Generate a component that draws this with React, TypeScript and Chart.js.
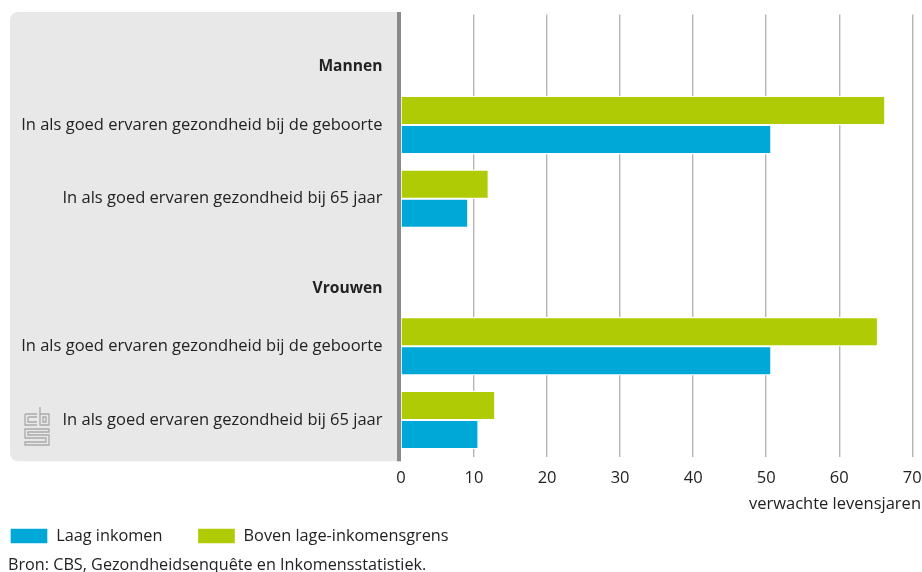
import React, { useEffect, useRef } from "react";
import { Chart, registerables } from "chart.js";

Chart.register(...registerables);

const categories: (string | string[])[] = [
  ["", "Mannen"],
  "In als goed ervaren gezondheid bij de geboorte",
  "In als goed ervaren gezondheid bij 65 jaar",
  ["", "Vrouwen"],
  "In als goed ervaren gezondheid bij de geboorte",
  "In als goed ervaren gezondheid bij 65 jaar",
];
const boven = [null, 66.3, 12, null, 65.3, 12.9];
const laag = [null, 50.7, 9.2, null, 50.7, 10.6];
const xTicks = [0, 10, 20, 30, 40, 50, 60, 70];
const FONT = "'Open Sans'";
const SIZE = 16.5;
const TEXT = "#222222";

const panel = {
  id: "panel",
  afterLayout(chart: any) {
    const legend = chart.legend;
    legend.left = -25;
    legend.top = 523.5 - legend.height / 2;
    const title = chart.titleBlock;
    title.left = 8;
    title.right = 900;
    title.top = 565 - title.height / 2;
  },
  beforeDraw(chart: any) {
    const { ctx, chartArea } = chart;
    const x0 = chart.scales.x.getPixelForValue(0);
    ctx.save();
    ctx.fillStyle = "#e8e8e8";
    ctx.beginPath();
    ctx.roundRect(10, chartArea.top - 2.5, x0 - 10, chartArea.height + 7, [8, 0, 0, 8]);
    ctx.fill();
    ctx.fillStyle = "#8a8a8a";
    ctx.fillRect(x0 - 4, chartArea.top - 2.5, 4, chartArea.height + 7);
    ctx.restore();
  },
};

export default function App() {
  const ref = useRef<HTMLCanvasElement>(null);
  useEffect(() => {
    const chart = new Chart(ref.current!, {
      type: "bar",
      plugins: [panel],
      data: {
        labels: categories as any,
        datasets: [
          { label: "Boven lage-inkomensgrens", data: boven as any, backgroundColor: "#afcb05", borderColor: "#ffffff", borderWidth: 1.35, borderSkipped: "left", barThickness: 29 },
          { label: "Laag inkomen", data: laag as any, backgroundColor: "#00a8d8", borderColor: "#ffffff", borderWidth: 1.35, borderSkipped: "left", barThickness: 29 },
        ],
      },
      options: {
        indexAxis: "y",
        animation: false,
        responsive: false,
        layout: { padding: { top: 14.5, right: 1, bottom: -25.5, left: 0 } },
        scales: {
          y: {
            afterFit: (s: any) => { s.width = 401; s.paddingTop = 0; s.paddingBottom = 0; },
            grid: { display: false, drawTicks: false },
            border: { display: false },
            ticks: {
              color: TEXT,
              padding: 18.5,
              autoSkip: false,
              font: (c: any) => {
                const header = Array.isArray(categories[c.index]);
                return header
                  ? { family: FONT, size: 15.6, weight: "bold", lineHeight: 2 }
                  : { family: FONT, size: SIZE, weight: "normal", lineHeight: 1.2 };
              },
            },
          },
          x: {
            min: 0,
            max: 71.2,
            afterBuildTicks: (s: any) => { s.ticks = xTicks.map((value) => ({ value })); },
            afterFit: (s: any) => { s.height = 60; s.paddingLeft = 0; s.paddingRight = 0; },
            grid: {
              drawTicks: false,
              color: (c: any) => (c.tick && c.tick.value === 0 ? "rgba(0,0,0,0)" : "#b5b5b5"),
              lineWidth: 1.4,
            },
            border: { display: false },
            ticks: { color: TEXT, padding: 12, maxRotation: 0, font: { family: FONT, size: SIZE } },
            title: {
              display: true,
              text: "verwachte levensjaren",
              align: "end",
              color: TEXT,
              padding: { top: 3, bottom: 2.2 },
              font: { family: FONT, size: SIZE },
            },
          },
        },
        plugins: {
          tooltip: { enabled: false },
          legend: {
            position: "bottom",
            align: "start",
            reverse: true,
            labels: { boxWidth: 38, boxHeight: 16, color: TEXT, padding: 35, font: { family: FONT, size: 16.3 } },
          },
          title: {
            display: true,
            position: "bottom",
            align: "start",
            text: "Bron: CBS, Gezondheidsenquête en Inkomensstatistiek.",
            color: TEXT,
            padding: { top: 0, bottom: 0 },
            font: { family: FONT, size: 16.2, weight: "normal" },
          },
        },
      },
    } as any);
    return () => chart.destroy();
  }, []);
  return (
    <div style={{ position: "absolute", left: 0, top: 0, width: 922, height: 572 }}>
      <canvas ref={ref} width={922} height={572} style={{ display: "block" }} />
      <svg width="26" height="40" viewBox="0 0 26 40" fill="none" stroke="#a9a9a9" strokeWidth="1.3" style={{ position: "absolute", left: 24, top: 406 }}>
        <path d="M1 8H13M1 8V19H13M4 11H13M4 11V16H13M16 1V19H25V8H16M19 11H22V16H19Z" />
        <path d="M1 23H25V26H4V29H25V39H1V36H22V32H1Z" />
      </svg>
    </div>
  );
}
